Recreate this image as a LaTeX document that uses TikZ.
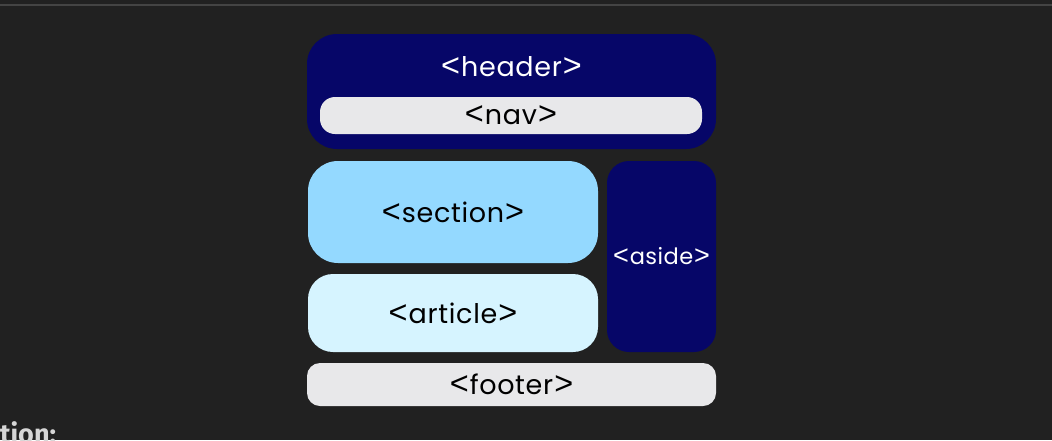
\documentclass[tikz,border=0pt]{standalone}
\usepackage{fontspec}
\setmainfont{Poppins}
\newfontfamily\captionfont{Fira Sans}
\newfontfamily\bracketfont{Liberation Sans}
\definecolor{bg}{HTML}{212121}
\definecolor{navy}{HTML}{060668}
\definecolor{lightgray}{HTML}{E8E8EA}
\definecolor{skyblue}{HTML}{94D9FF}
\definecolor{paleblue}{HTML}{D6F4FF}
\definecolor{rulegray}{HTML}{444444}
\definecolor{captiongray}{HTML}{D6D6D6}
\newcommand{\htmltag}[1]{{\bracketfont\fontsize{1.2em}{1em}\selectfont<}\kern0.04em #1\kern0.04em{\bracketfont\fontsize{1.2em}{1em}\selectfont>}}
\tikzset{
  box/.style={draw=none, rounded corners=#1, inner sep=0pt},
  tagtext/.style={font=\fontsize{27}{30}\selectfont\addfontfeatures{LetterSpace=2.5}, inner sep=0pt},
}
\begin{document}
\begin{tikzpicture}[x=1pt,y=-1pt]
\useasboundingbox[fill=bg] (0,0) rectangle (1052,440);
\coordinate (ruleL) at (0,5);
\coordinate (ruleR) at (1052,5);
\draw[rulegray, line width=1.5pt] (ruleL) -- (ruleR);
% header
\node[box=30pt, fill=navy, minimum width=409pt, minimum height=115pt] (header) at (511.5,91.5) {};
\node[tagtext, text=white] (headertxt) at (511.5,67) {\htmltag{header}};
\node[box=15pt, fill=lightgray, minimum width=382pt, minimum height=37pt] (nav) at (511,115.5) {};
\node[tagtext, text=black] at (nav) {\htmltag{nav}};
% section
\node[box=30pt, fill=skyblue, minimum width=290pt, minimum height=102pt] (section) at (453,212) {};
\node[tagtext, text=black] at (section) {\htmltag{section}};
% article
\node[box=25pt, fill=paleblue, minimum width=290pt, minimum height=78pt] (article) at (453,313) {};
\node[tagtext, text=black] at (article) {\htmltag{article}};
% aside
\node[box=22pt, fill=navy, minimum width=109pt, minimum height=191pt] (aside) at (661.5,256.5) {};
\node[font=\fontsize{22.5}{25}\selectfont\addfontfeatures{LetterSpace=2}, inner sep=0pt, text=white] at (aside) {\htmltag{aside}};
% footer
\node[box=13pt, fill=lightgray, minimum width=409pt, minimum height=43pt] (footer) at (511.5,384.5) {};
\node[tagtext, text=black] at (footer) {\htmltag{footer}};
% caption fragment
\node[font=\captionfont\bfseries\fontsize{27}{30}\selectfont, text=captiongray, anchor=base west, inner sep=0pt] (caption) at (0,443) {tion:};
\end{tikzpicture}
\end{document}
